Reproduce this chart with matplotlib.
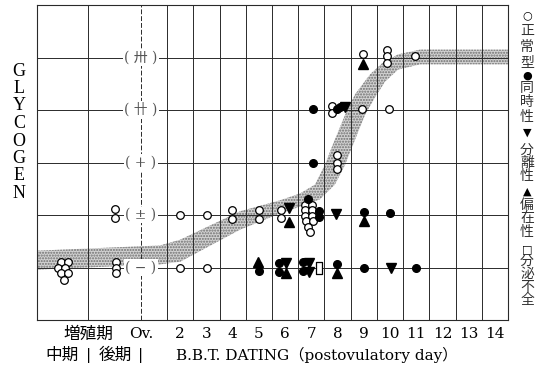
import matplotlib
matplotlib.use("Agg")
import matplotlib.pyplot as plt
from matplotlib.patches import Polygon
from matplotlib.path import Path

# ---- glycogen grade levels (y) -------------------------------------------
grade_levels = [0, 1, 2, 3, 4]
grade_labels = ["(\u2212)", "(\u00b1)", "(+)", "(\u5344)", "(\u5345)"]

# ---- x positions (days) -----------------------------------------------------
day_ticks = [2, 3, 4, 5, 6, 7, 8, 9, 10, 11, 12, 13, 14]
ov_pos = 0.5
phase_split = -1.5

# ---- trend band (upper / lower edges) --------------------------------------
band_up_x = [-3.46, 1.23, 2.0, 4.28, 5.81, 6.57, 7.14, 7.52, 7.90, 8.29, 8.67, 9.24, 9.70, 10.31, 11.15, 14.5]
band_up_y = [0.32, 0.42, 0.53, 1.07, 1.28, 1.41, 1.58, 1.96, 2.44, 2.91, 3.30, 3.68, 3.89, 4.06, 4.15, 4.15]
band_lo_x = [-3.46, 1.23, 2.0, 4.28, 5.81, 6.57, 7.33, 7.90, 8.29, 8.67, 9.05, 9.43, 9.81, 10.31, 11.15, 14.5]
band_lo_y = [-0.04, 0.06, 0.11, 0.72, 1.03, 1.16, 1.30, 1.58, 1.96, 2.44, 2.91, 3.24, 3.54, 3.77, 3.87, 3.87]

# ---- cases by pattern --------------------------------------------------------
# 正常型 (open circle)
normal_x = [-2.54, -2.27, -2.65, -2.39, -2.54, -2.27, -2.43,
            -0.44, -0.44, -0.44, -0.48, -0.48,
            2.0, 3.03, 2.0, 3.03,
            3.98, 3.98, 5.0, 5.0, 5.85, 5.85,
            6.76, 7.03, 6.76, 7.03, 6.76, 7.03, 6.80, 7.06, 6.88, 6.95,
            7.98, 7.98, 7.98,
            7.79, 7.79, 8.95, 9.96,
            8.97, 9.89, 9.89, 9.89, 10.96]
normal_y = [0.11, 0.11, 0.0, 0.0, -0.10, -0.10, -0.23,
            0.11, 0.0, -0.11, 1.11, 0.94,
            1.0, 1.0, 0.0, 0.0,
            1.10, 0.92, 1.10, 0.93, 1.10, 0.95,
            1.20, 1.20, 1.09, 1.09, 0.99, 0.99, 0.88, 0.88, 0.78, 0.67,
            2.15, 2.0, 1.87,
            3.07, 2.94, 3.01, 3.01,
            4.06, 4.15, 4.02, 3.89, 4.02]

# 同時性 (filled circle)
sync_x = [6.88, 7.29, 7.29, 9.0, 10.0,
          5.0, 5.77, 5.77, 6.68, 6.68, 7.98, 9.0, 10.99,
          7.05, 7.05, 7.98, 8.10]
sync_y = [1.31, 1.07, 0.97, 1.06, 1.03,
          -0.06, 0.09, -0.08, 0.10, -0.06, 0.07, 0.0, 0.0,
          2.0, 3.01, 3.01, 3.05]

# 分離性 (down triangle)
sep_x = [6.15, 7.94, 6.04, 6.92, 6.92, 10.04, 8.29]
sep_y = [1.14, 1.02, 0.09, 0.08, -0.09, 0.0, 3.06]

# 偏在性 (up triangle)
uneven_x = [6.15, 9.0, 4.97, 6.04, 7.98, 8.97]
uneven_y = [0.86, 0.89, 0.10, -0.10, -0.11, 3.87]

# 分泌不全 (open rectangle)
insuff_x = [7.30]
insuff_y = [0.0]

# legend column text
legend_chars = ["\u25cb", "正", "常", "型", "\u25cf", "同", "時", "性",
                "\u25bc", "分", "離", "性", "\u25b2", "偏", "在", "性",
                "\u25a1", "分", "泌", "不", "全"]

# ---- figure ------------------------------------------------------------------
W, H = 542, 369
fig = plt.figure(figsize=(W / 100, H / 100), dpi=100)
ax = fig.add_axes([37 / W, 1 - 320 / H, (508 - 37) / W, (320 - 5) / H])
ax.set_xlim(-3.46, 14.5)
ax.set_ylim(-1, 5)


def fy(py):
    """Figure fraction for a vertical pixel offset from the top edge."""
    return 1 - py / H


line_c = "#2a2a2a"
for s in ax.spines.values():
    s.set_color(line_c)
    s.set_linewidth(0.8)
ax.set_xticks([])
ax.set_yticks([])

# grid
for xv in [phase_split] + [d + 0.5 for d in range(1, 14)]:
    ax.axvline(xv, color=line_c, lw=0.7, zorder=2)
ax.axvline(ov_pos, color=line_c, lw=0.7, ls=(0, (5, 2)), zorder=2)
for yv in grade_levels:
    ax.axhline(yv, color=line_c, lw=0.7, zorder=2)

# trend band
band_pts = list(zip(band_up_x, band_up_y)) + list(zip(band_lo_x[::-1], band_lo_y[::-1]))
ax.add_patch(Polygon(band_pts, closed=True, facecolor="#d2d2d2", edgecolor="#6f6f6f",
                     hatch="......", lw=0, zorder=1))

# grade labels on the ovulation line
for yv, lab in zip(grade_levels, grade_labels):
    ax.text(ov_pos, yv, lab.replace("(", "( ").replace(")", " )"),
            ha="center", va="center", fontsize=10, color="#555555",
            family=["DejaVu Serif", "Noto Sans CJK JP"],
            bbox=dict(boxstyle="square,pad=0.1", fc="white", ec="none"), zorder=4)

# markers
ms = 5.5
ax.plot(normal_x, normal_y, "o", ms=ms, mfc="white", mec="black", mew=0.9, ls="none", zorder=5)
ax.plot(sync_x, sync_y, "o", ms=ms, mfc="black", mec="black", ls="none", zorder=6)
ax.plot(sep_x, sep_y, "v", ms=6.5, mfc="black", mec="black", ls="none", zorder=6)
ax.plot(uneven_x, uneven_y, "^", ms=6.5, mfc="black", mec="black", ls="none", zorder=6)
rect = Path([(-0.45, -1), (0.45, -1), (0.45, 1), (-0.45, 1), (-0.45, -1)],
            [Path.MOVETO, Path.LINETO, Path.LINETO, Path.LINETO, Path.CLOSEPOLY])
ax.plot(insuff_x, insuff_y, ls="none", marker=rect, ms=9, mfc="white", mec="black", mew=0.9, zorder=6)

# x labels (row 1)
serif = ["DejaVu Serif", "Noto Sans CJK JP"]
cjk = ["Noto Sans CJK JP"]
row1_y = -1.27
for d in day_ticks:
    ax.text(d, row1_y, str(d), ha="center", va="center", fontsize=11, family=serif)
ax.text(ov_pos, row1_y, "Ov.", ha="center", va="center", fontsize=11, family=serif)
ax.text(phase_split, row1_y, "増殖期", ha="center", va="center", fontsize=12, family=cjk)

# x labels (row 2)
row2_y = -1.67
ax.text(-2.51, row2_y, "中期", ha="center", va="center", fontsize=12, family=cjk)
ax.text(-0.48, row2_y, "後期", ha="center", va="center", fontsize=12, family=cjk)
ax.text(phase_split, row2_y, "|", ha="center", va="center", fontsize=11, family=serif)
ax.text(ov_pos, row2_y, "|", ha="center", va="center", fontsize=11, family=serif)
ax.text(1.84, row2_y, "B.B.T. DATING\uff08postovulatory day\uff09", ha="left", va="center",
        fontsize=11, family=serif)

# y title, one letter per line
for i, ch in enumerate("GLYCOGEN"):
    fig.text(19 / W, fy(71 + i * 17.5), ch, ha="center", va="center",
             fontsize=13, family=["Liberation Serif", "DejaVu Serif"])

# legend column on the right
legend_py = [15, 31, 47, 62, 76, 88, 102, 117, 133, 150, 163, 176,
             192, 205, 218, 232, 249, 261, 274, 287, 300]
for ch, py in zip(legend_chars, legend_py):
    if ch in "\u25cb\u25cf\u25bc\u25b2\u25a1":
        fig.text(527 / W, fy(py), ch, ha="center", va="center", fontsize=8,
                 family=["DejaVu Sans"])
    else:
        fig.text(527 / W, fy(py), ch, ha="center", va="center", fontsize=10,
                 family=cjk, color="#333333")

fig.savefig("out.png", dpi=100)
